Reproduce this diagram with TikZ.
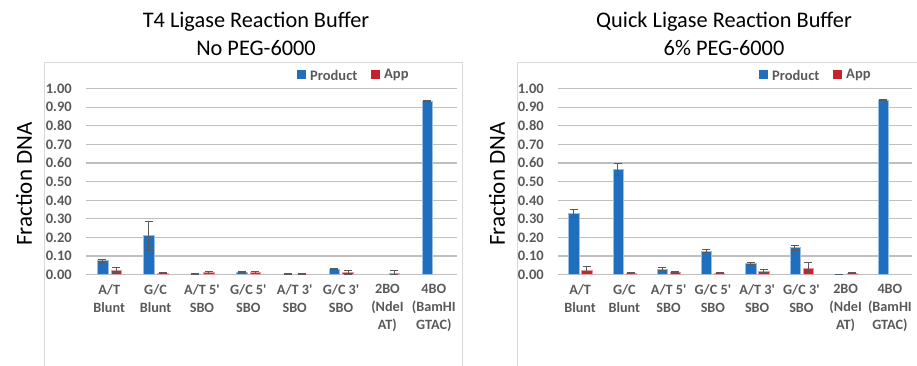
\documentclass[tikz,border=0pt]{standalone}
\usepackage{fontspec}
\setmainfont{Carlito}[Ligatures=TeXOff]

\definecolor{prodblue}{RGB}{31,111,190}
\definecolor{appred}{RGB}{200,32,44}
\definecolor{errgray}{RGB}{89,89,89}
\definecolor{gridgray}{RGB}{191,191,191}
\definecolor{framegray}{RGB}{217,217,217}
\definecolor{labelgray}{RGB}{89,89,89}

\tikzset{
	prodbar/.style={fill=prodblue, draw=prodblue!45!white, line width=0.5pt},
	appbar/.style={fill=appred, draw=appred!45!white, line width=0.5pt},
	errbar/.style={draw=errgray, line width=1pt},
	gridline/.style={draw=gridgray, line width=1.2pt},
	panelframe/.style={draw=framegray, line width=0.9pt},
	ticklabel/.style={font=\fontsize{14.5}{14.5}\selectfont\bfseries, text=labelgray, anchor=east, inner sep=0pt},
	catlabel/.style={font=\fontsize{14.2}{18}\selectfont\bfseries, text=labelgray, align=center, anchor=north, inner sep=0pt},
	legendlabel/.style={font=\fontsize{14.5}{14.5}\selectfont\bfseries, text=labelgray, anchor=west, inner sep=0pt},
	charttitle/.style={font=\fontsize{22.3}{28}\selectfont, align=center, inner sep=0pt},
	axistitle/.style={font=\fontsize{23}{24}\selectfont, rotate=90, inner sep=0pt},
}

% category names along the x axis
\def\catlist{{A/T\\Blunt},{G/C\\Blunt},{A/T 5'\\SBO},{G/C 5'\\SBO},{A/T 3'\\SBO},{G/C 3'\\SBO},{2BO\\(NdeI\\AT)},{4BO\\(BamHI\\GTAC)}}

% #1 grid left, #2 grid right, #3 legend x, #4 name prefix, #5 product/err/app/err
\newcommand{\chartpanel}[5]{%
	\pgfmathsetmacro\cw{(#2-#1)/8}
	% value grid and tick labels, 0.10 = 18.6
	\foreach \t [count=\k from 0] in {0.00,0.10,0.20,0.30,0.40,0.50,0.60,0.70,0.80,0.90,1.00}{
		\draw[gridline] (#1,91.3+18.6*\k) -- (#2,91.3+18.6*\k);
		\node[ticklabel] (#4tick\k) at (#1-14,91.3+18.6*\k) {\t};
	}
	% bars with error bars
	\foreach \p/\pe/\a/\ae [count=\i] in {#5}{
		\pgfmathsetmacro\cx{#1+(\i-0.5)*\cw}
		\ifdim\p pt>0pt
			\draw[prodbar] (\cx-0.26*\cw,91.3) rectangle (\cx-0.03*\cw,{91.3+186*\p});
		\fi
		\ifdim\a pt>0pt
			\draw[appbar] (\cx+0.035*\cw,91.3) rectangle (\cx+0.265*\cw,{91.3+186*\a});
		\fi
		\ifdim\pe pt>0pt
			\draw[errbar] (\cx-0.145*\cw,{91.3+186*(\p-\pe)}) -- (\cx-0.145*\cw,{91.3+186*(\p+\pe)});
			\draw[errbar] (\cx-0.145*\cw-4,{91.3+186*(\p+\pe)}) -- ++(8,0);
			\draw[errbar] (\cx-0.145*\cw-4,{91.3+186*(\p-\pe)}) -- ++(8,0);
		\fi
		\ifdim\ae pt>0pt
			\draw[errbar] (\cx+0.15*\cw,{91.3+186*(\a-\ae)}) -- (\cx+0.15*\cw,{91.3+186*(\a+\ae)});
			\draw[errbar] (\cx+0.15*\cw-4,{91.3+186*(\a+\ae)}) -- ++(8,0);
			\draw[errbar] (\cx+0.15*\cw-4,{91.3+186*(\a-\ae)}) -- ++(8,0);
		\fi
	}
	\foreach \c [count=\i] in \catlist{
		\node[catlabel] (#4cat\i) at ({#1+(\i-0.5)*\cw},82) {\c};
	}
	% legend
	\fill[prodblue] (#3,286.5) rectangle ++(9,9);
	\node[legendlabel] (#4legprod) at (#3+13,291) {Product};
	\fill[appred] (#3+74,286.5) rectangle ++(9,9);
	\node[legendlabel] (#4legapp) at (#3+87,291) {App};
}

\begin{document}
\begin{tikzpicture}[x=1pt,y=1pt]
	\useasboundingbox (0,0) rectangle (917,366);

	% T4 buffer, no PEG
	\draw[panelframe] (44,-2) -- (44,304) -- (462,304) -- (462,-2);
	\node[charttitle] (t4title) at (256,332) {T4 Ligase Reaction Buffer\\No PEG-6000};
	\node[axistitle] (t4axis) at (24,182) {Fraction DNA};
	\chartpanel{86}{457}{297}{t4}{0.075/0.008/0.025/0.015, 0.21/0.078/0.008/0.004,
		0.005/0.002/0.012/0.005, 0.015/0.003/0.012/0.004, 0.004/0.002/0.004/0.002,
		0.03/0.004/0.012/0.01, 0/0/0.01/0.01, 0.935/0.002/0/0}

	% quick buffer, 6% PEG
	\draw[panelframe] (517,-2) -- (517,304) -- (919,304);
	\node[charttitle] (qtitle) at (724,332) {Quick Ligase Reaction Buffer\\6\% PEG-6000};
	\node[axistitle] (qaxis) at (497,182) {Fraction DNA};
	\chartpanel{558}{912}{759}{q}{0.33/0.022/0.025/0.018, 0.565/0.032/0.008/0.004,
		0.03/0.007/0.014/0.004, 0.128/0.007/0.01/0.003, 0.06/0.005/0.02/0.006,
		0.145/0.014/0.037/0.03, 0.002/0.001/0.01/0.003, 0.94/0.002/0/0}
\end{tikzpicture}
\end{document}
